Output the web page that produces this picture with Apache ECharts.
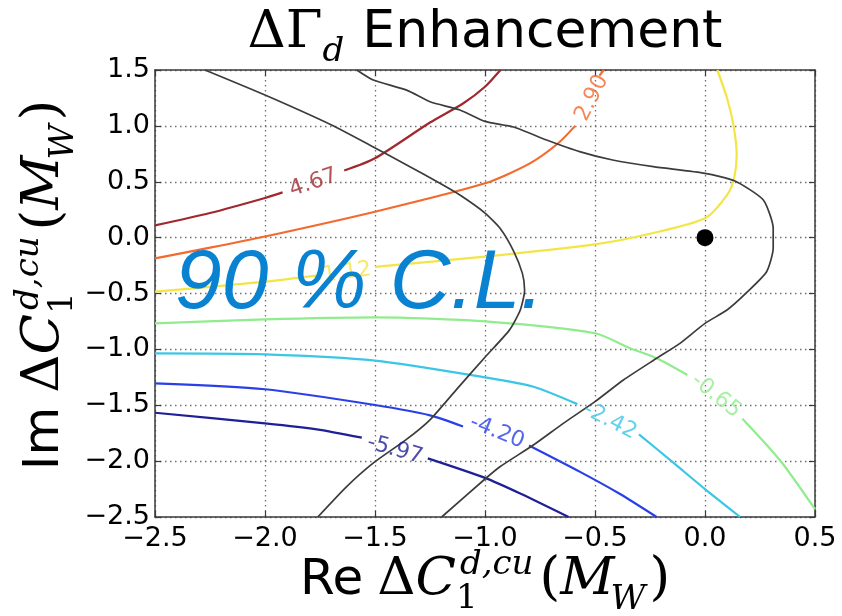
<!DOCTYPE html>
<html>
<head>
<meta charset="utf-8">
<script src="https://cdn.jsdelivr.net/npm/echarts@6/dist/echarts.min.js"></script>
<style>
  html, body { margin: 0; padding: 0; background: #fff; }
  #chart { width: 842px; height: 616px; }
</style>
</head>
<body>
<div id="chart"></div>
<script>
// axis ticks
const xTicks = [-2.5, -2.0, -1.5, -1.0, -0.5, 0.0, 0.5];
const yTicks = [-2.5, -2.0, -1.5, -1.0, -0.5, 0.0, 0.5, 1.0, 1.5];

// contour lines, null = gap left for the inline label
const level467 = [[-2.5, 0.11], [-2.25, 0.22], [-2.0, 0.355], [-1.92, 0.405], null,
  [-1.64, 0.60], [-1.5, 0.71], [-1.25, 1.03], [-1.1, 1.2], [-1.0, 1.35], [-0.93, 1.5]];
const level290 = [[-2.5, -0.185], [-2.25, -0.09], [-2.0, 0.01], [-1.5, 0.232], [-1.0, 0.486],
  [-0.8, 0.66], [-0.67, 0.84], [-0.59, 1.0], null, [-0.48, 1.45], [-0.46, 1.5]];
const level112 = [[-2.5, -0.484], [-2.25, -0.44], [-2.0, -0.394], [-1.75, -0.335], null,
  [-1.5, -0.262], [-1.0, -0.17], [-0.5, -0.06], [-0.25, 0.035], [0.0, 0.173], [0.1, 0.38],
  [0.132, 0.53], [0.144, 0.74], [0.13, 1.0], [0.1, 1.25], [0.056, 1.5]];
const levelM065 = [[-2.5, -0.767], [-2.0, -0.731], [-1.5, -0.713], [-1.0, -0.75], [-0.5, -0.856],
  [-0.34, -0.99], [-0.22, -1.08], [-0.08, -1.23], null, [0.17, -1.62], [0.34, -1.99], [0.5, -2.43]];
const levelM242 = [[-2.5, -1.035], [-2.0, -1.044], [-1.5, -1.1], [-1.0, -1.25], [-0.78, -1.334],
  [-0.58, -1.49], null, [-0.3, -1.76], [-0.14, -2.02], [0.0, -2.25], [0.16, -2.5]];
const levelM420 = [[-2.5, -1.304], [-2.0, -1.357], [-1.5, -1.498], [-1.25, -1.59], [-1.1, -1.69], null,
  [-0.8, -1.86], [-0.57, -2.094], [-0.39, -2.29], [-0.22, -2.5]];
const levelM597 = [[-2.5, -1.567], [-2.0, -1.662], [-1.75, -1.72], [-1.56, -1.79], null,
  [-1.26, -1.975], [-1.0, -2.15], [-0.84, -2.29], [-0.62, -2.5]];

// 90 % C.L. boundary (two branches)
const clLeft = [[-2.273, 1.5], [-2.0, 1.276], [-1.7, 1.01], [-1.51, 0.814], [-1.356, 0.65],
  [-1.205, 0.486], [-1.114, 0.381], [-1.0, 0.22], [-0.93, 0.08], [-0.87, -0.12], [-0.83, -0.32],
  [-0.82, -0.47], [-0.84, -0.65], [-0.89, -0.83], [-1.0, -1.07], [-1.13, -1.36], [-1.25, -1.63],
  [-1.36, -1.81], [-1.51, -2.02], [-1.63, -2.23], [-1.76, -2.5]];
const clRight = [[-1.583, 1.5], [-1.508, 1.41], [-1.356, 1.32], [-1.25, 1.216], [-1.114, 1.142],
  [-1.0, 1.04], [-0.87, 0.99], [-0.72, 0.874], [-0.57, 0.77], [-0.42, 0.695], [-0.235, 0.635],
  [0.0, 0.575], [0.136, 0.507], [0.265, 0.337], [0.31, 0.083], [0.31, -0.096], [0.28, -0.305],
  [0.19, -0.49], [0.1, -0.648], [0.0, -0.767], [-0.114, -0.946], [-0.22, -1.08], [-0.371, -1.274],
  [-0.5, -1.468], [-0.644, -1.662], [-0.78, -1.856], [-0.932, -2.05], [-1.0, -2.16], [-1.197, -2.5]];

const bestFit = [[0.0, 0.0]];

const levelNames = ['4.67', '2.90', '1.12', '-0.65', '-2.42', '-4.20', '-5.97'];
const labelPos = [[-1.78, 0.49], [-0.514, 1.25], [-1.627, -0.314], [0.05, -1.417],
  [-0.432, -1.641], [-0.945, -1.74], [-1.409, -1.9]];

// styles
const levelLines = [level467, level290, level112, levelM065, levelM242, levelM420, levelM597];
const levelColors = ['#a0282e', '#f26a2e', '#f3e545', '#90ec8c', '#3cc6e6', '#2a40e6', '#1f1f96'];
const labelAngles = [19, 63, 8, -39, -27, -22, -16];

const toSeriesData = pts => pts.map(p => (p === null ? ['-', '-'] : p));
const fmtTick = v => v.toFixed(1).replace('-', '\u2212');

// small mathtext-like layout with canvas text metrics
const measureCtx = document.createElement('canvas').getContext('2d');
const fontStr = (tk, fs) => (tk.it ? 'italic ' : '') + fs + 'px ' + tk.fam;
const measure = (text, font) => { measureCtx.font = font; return measureCtx.measureText(text).width; };

function txt(text, font, fs, x, baseline) {
  return {
    type: 'text', x: x, y: baseline - 0.34 * fs,
    style: { text: text, font: font, fill: '#000', align: 'left', verticalAlign: 'middle' }
  };
}

function mathText(tokens) {
  let x = 0;
  const children = [];
  tokens.forEach(tk => {
    if (tk.gap) { x += tk.gap; return; }
    if (tk.sup || tk.sub) {
      let w = 0;
      if (tk.sup) {
        const f = fontStr(tk, tk.fs);
        children.push(txt(tk.sup, f, tk.fs, x + (tk.supDx || 0), tk.supDy));
        w = Math.max(w, measure(tk.sup, f) + (tk.supDx || 0));
      }
      if (tk.sub) {
        const f = fontStr({ it: tk.subIt, fam: tk.fam }, tk.fs);
        children.push(txt(tk.sub, f, tk.fs, x, tk.subDy));
        w = Math.max(w, measure(tk.sub, f));
      }
      x += w;
      return;
    }
    const f = fontStr(tk, tk.fs);
    children.push(txt(tk.t, f, tk.fs, x, 0));
    x += measure(tk.t, f) + (tk.kern || 0);
  });
  return { children: children, width: x };
}

const SANS = '"DejaVu Sans"';
const SERIF = '"DejaVu Serif"';

const titleMath = mathText([
  { t: '\u0394\u0393', fs: 53, fam: SERIF },
  { sub: 'd', fs: 34, fam: SERIF, subIt: true, subDy: 13 },
  { gap: 18 },
  { t: 'Enhancement', fs: 52, fam: SANS }
]);

const axisTokens = (head) => [
  { t: head, fs: 50, fam: SANS },
  { gap: 14 },
  { t: '\u0394', fs: 53, fam: SERIF },
  { t: 'C', fs: 53, fam: SERIF, it: true },
  { sup: 'd,cu', sub: '1', fs: 34, fam: SERIF, it: true, supDx: 4, supDy: -21, subDy: 13 },
  { gap: 6 },
  { t: '(', fs: 53, fam: SERIF },
  { t: 'M', fs: 53, fam: SERIF, it: true, kern: -4 },
  { sub: 'W', fs: 34, fam: SERIF, it: true, subDy: 14, subIt: true },
  { gap: 4 },
  { t: ')', fs: 53, fam: SERIF }
];
const xLabelMath = mathText(axisTokens('Re'));
const yLabelMath = mathText(axisTokens('Im'));

const gridBox = { left: 155, right: 27, top: 70, bottom: 99 };
const plotCx = gridBox.left + (842 - gridBox.left - gridBox.right) / 2;

const frameLine = { show: true, onZero: false, lineStyle: { color: '#3a3a3a', width: 1.5 } };
const innerTick = { show: true, inside: true, length: 6, lineStyle: { color: '#3a3a3a', width: 1.2 } };
const dotted = { show: true, lineStyle: { color: '#707070', type: [1.5, 3.5], width: 1.3 } };
const tickFont = { fontSize: 27, color: '#000', fontFamily: 'DejaVu Sans', formatter: fmtTick,
  showMinLabel: true, showMaxLabel: true };

const xBase = { type: 'value', min: xTicks[0], max: xTicks[xTicks.length - 1], interval: 0.5 };
const yBase = { type: 'value', min: yTicks[0], max: yTicks[yTicks.length - 1], interval: 0.5 };

const series = [];
levelLines.forEach((pts, i) => {
  series.push({
    type: 'line', name: levelNames[i], data: toSeriesData(pts),
    symbol: 'none', showSymbol: false, smooth: 0.25, connectNulls: false,
    lineStyle: { color: levelColors[i], width: 2.2 }, z: 3, silent: true
  });
});
[clLeft, clRight].forEach(pts => {
  series.push({
    type: 'line', data: pts, symbol: 'none', showSymbol: false, smooth: 0.2,
    lineStyle: { color: '#3c3c3c', width: 1.7 }, z: 4, silent: true
  });
});
series.push({
  type: 'scatter', symbolSize: 0, z: 5, silent: true,
  data: labelPos.map((p, i) => ({
    value: p,
    label: {
      show: true, position: 'inside', formatter: levelNames[i], rotate: labelAngles[i],
      color: levelColors[i], fontSize: 22, fontFamily: 'DejaVu Sans'
    }
  }))
});
series.push({
  type: 'scatter', data: bestFit, symbol: 'circle', symbolSize: 17, z: 6, silent: true,
  itemStyle: { color: '#000', opacity: 1 }
});

const option = {
  animation: false,
  backgroundColor: '#fff',
  grid: gridBox,
  xAxis: [
    Object.assign({}, xBase, { position: 'bottom', axisLine: frameLine, axisTick: innerTick,
      axisLabel: Object.assign({ margin: 8 }, tickFont), splitLine: dotted }),
    Object.assign({}, xBase, { position: 'top', axisLine: frameLine, axisTick: innerTick,
      axisLabel: { show: false }, splitLine: { show: false } })
  ],
  yAxis: [
    Object.assign({}, yBase, { position: 'left', axisLine: frameLine, axisTick: innerTick,
      axisLabel: Object.assign({ margin: 5 }, tickFont), splitLine: dotted }),
    Object.assign({}, yBase, { position: 'right', axisLine: frameLine, axisTick: innerTick,
      axisLabel: { show: false }, splitLine: { show: false } })
  ],
  series: series,
  graphic: [
    { type: 'group', x: plotCx - titleMath.width / 2, y: 51, children: titleMath.children },
    { type: 'group', x: plotCx - xLabelMath.width / 2, y: 598, children: xLabelMath.children },
    { type: 'group', x: 62, y: 285 + yLabelMath.width / 2, rotation: Math.PI / 2,
      children: yLabelMath.children },
    {
      type: 'text', x: 175, y: 313 - 0.34 * 84, z: 100,
      style: { text: '90 % C.L.', font: 'italic 84px "Liberation Sans"', fill: '#0a82d2',
        align: 'left', verticalAlign: 'middle' }
    }
  ]
};

const chart = echarts.init(document.getElementById('chart'), null, { renderer: 'canvas' });
chart.setOption(option);
</script>
</body>
</html>
